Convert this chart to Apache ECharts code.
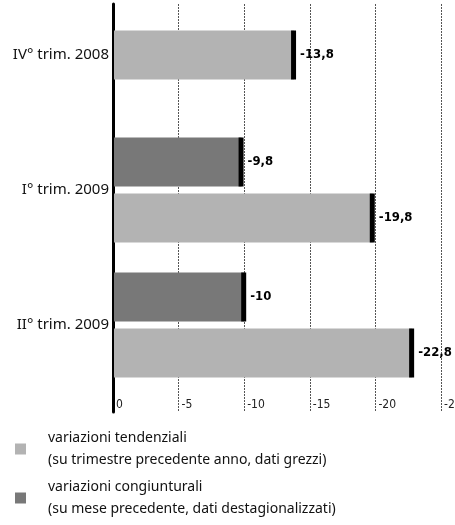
<!DOCTYPE html>
<html>
<head>
<meta charset="utf-8">
<script src="https://cdn.jsdelivr.net/npm/echarts@6/dist/echarts.min.js"></script>
<style>html,body{margin:0;padding:0;background:#fff}#c{width:455px;height:525px}</style>
</head>
<body>
<div id="c"></div>
<script>
const categories = ['IV° trim. 2008', 'I° trim. 2009', 'II° trim. 2009'];
const tendenziali = [-13.8, -19.8, -22.8];
const congiunturali = [null, -9.8, -10];
const seriesNames = ['variazioni tendenziali', 'variazioni congiunturali'];
const seriesNotes = ['(su trimestre precedente anno, dati grezzi)', '(su mese precedente, dati destagionalizzati)'];
const xMin = -25, xMax = 0, xStep = 5;

const chart = echarts.init(document.getElementById('c'), null, {renderer: 'canvas'});

const gridLine = {show: true, lineStyle: {color: '#555', width: 1, type: [2, 1]}};
const fmtVal = v => String(v).replace('.', ',');

function makeRender(key) {
  return function (params, api) {
    const v = api.value(0), cat = api.value(1);
    const both = tendenziali[cat] != null && congiunturali[cat] != null;
    const p0 = api.coord([0, cat]);
    const p1 = api.coord([v, cat]);
    const barH = 49, gap = 7;
    let y0;
    if (!both) y0 = p0[1] - barH / 2;
    else if (key === 'cong') y0 = p0[1] - gap / 2 - barH;
    else y0 = p0[1] + gap / 2;
    const x0 = p0[0] + 1, x1 = p1[0];
    return {
      type: 'group',
      children: [
        {type: 'rect', shape: {x: x0, y: y0, width: x1 - x0, height: barH}, style: {fill: api.visual('color')}},
        {type: 'rect', shape: {x: x1 - 3, y: y0, width: 5, height: barH}, style: {fill: '#000'}},
        {type: 'text', x: x1 + 6, y: y0 + barH / 2,
          style: {text: fmtVal(v), fill: '#000', fontSize: 13, fontWeight: 'bold',
            fontFamily: '"DejaVu Sans Condensed", "DejaVu Sans", sans-serif', align: 'left', verticalAlign: 'middle'}}
      ]
    };
  };
}

const option = {
  animation: false,
  backgroundColor: '#fff',
  grid: [
    {left: 113, right: 14, top: 55, height: 270, outerBoundsMode: 'none', containLabel: false},
    {left: 113, right: 14, top: 4, height: 408, outerBoundsMode: 'none', containLabel: false}
  ],
  xAxis: [
    {gridIndex: 0, type: 'value', min: xMin, max: xMax, interval: xStep, inverse: true,
      axisLine: {show: false}, axisTick: {show: false}, axisLabel: {show: false}, splitLine: {show: false}},
    {gridIndex: 1, type: 'value', min: xMin, max: xMax, interval: xStep, inverse: true,
      axisLine: {show: false}, axisTick: {show: false}, splitLine: gridLine,
      axisLabel: {inside: true, margin: 1, align: 'left', verticalAlign: 'bottom', padding: [0, 0, 0, 3],
        color: '#222', fontSize: 12, fontFamily: '"Liberation Sans Narrow", "DejaVu Sans Condensed", sans-serif',
        formatter: v => fmtVal(v)}}
  ],
  yAxis: [
    {gridIndex: 0, type: 'category', data: categories, inverse: true, boundaryGap: false,
      axisLine: {show: false}, axisTick: {show: false}, splitLine: {show: false},
      axisLabel: {margin: 4, color: '#111', fontSize: 15, fontFamily: '"Noto Sans", "Open Sans", sans-serif'}},
    {gridIndex: 1, type: 'category', data: [''],
      axisLine: {show: true, lineStyle: {color: '#000', width: 3}}, axisTick: {show: false}, axisLabel: {show: false}}
  ],
  legend: {
    orient: 'vertical', left: 15, top: 427, padding: 0, itemWidth: 11, itemHeight: 11, itemGap: 5,
    icon: 'rect', data: seriesNames,
    formatter: name => name + '\n' + seriesNotes[seriesNames.indexOf(name)],
    textStyle: {color: '#111', fontSize: 14, lineHeight: 22, padding: [0, 0, 0, 17],
      fontFamily: '"Noto Sans", "Open Sans", sans-serif'}
  },
  series: [
    {name: seriesNames[0], type: 'custom', xAxisIndex: 0, yAxisIndex: 0, clip: false,
      itemStyle: {color: '#b3b3b3'}, renderItem: makeRender('tend'),
      data: tendenziali.map((v, i) => v == null ? null : [v, i]).filter(d => d)},
    {name: seriesNames[1], type: 'custom', xAxisIndex: 0, yAxisIndex: 0, clip: false,
      itemStyle: {color: '#787878'}, renderItem: makeRender('cong'),
      data: congiunturali.map((v, i) => v == null ? null : [v, i]).filter(d => d)}
  ]
};
chart.setOption(option);
</script>
</body>
</html>
